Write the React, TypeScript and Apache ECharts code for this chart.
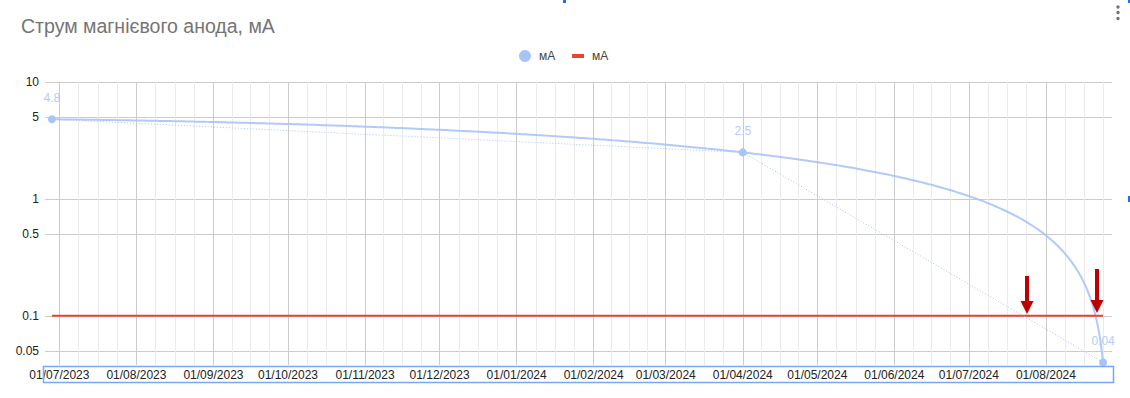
import { useEffect, useRef } from 'react';
import * as echarts from 'echarts';

// ---- data ----
const pointDates = ['2023-06-28', '2024-04-01', '2024-08-24'];
const currentMA = [4.8, 2.5, 0.04];
const thresholdMA = [0.1, 0.1, 0.1];
const seriesNames = ['мА', 'мА\u00a0'];
const titleText = 'Струм магнієвого анода, мА';
const xTickLabels = [
  '01/07/2023', '01/08/2023', '01/09/2023', '01/10/2023', '01/11/2023', '01/12/2023',
  '01/01/2024', '01/02/2024', '01/03/2024', '01/04/2024', '01/05/2024', '01/06/2024',
  '01/07/2024', '01/08/2024',
];
const yTickValues = [0.05, 0.1, 0.5, 1, 5, 10];
const xRange = ['2023-06-25T05:00', '2024-08-27T14:00'];
const yRange = [0.038, 10];

const DAY = 86400000;

function parseIso(s: string): number {
  const [d, t] = s.split('T');
  const [y, m, dd] = d.split('-').map(Number);
  let h = 0;
  let mi = 0;
  if (t) [h, mi] = t.split(':').map(Number);
  return new Date(y, m - 1, dd, h, mi).getTime();
}
function parseDmy(s: string): number {
  const [d, m, y] = s.split('/').map(Number);
  return new Date(y, m - 1, d).getTime();
}

// Polynomial (degree 2) least-squares trendline, as the source chart uses
function polyfit2(xs: number[], ys: number[]): number[] {
  const s = [0, 0, 0, 0, 0];
  const t = [0, 0, 0];
  xs.forEach((x, i) => {
    for (let k = 0; k < 5; k++) s[k] += Math.pow(x, k);
    for (let k = 0; k < 3; k++) t[k] += ys[i] * Math.pow(x, k);
  });
  const M = [
    [s[0], s[1], s[2]],
    [s[1], s[2], s[3]],
    [s[2], s[3], s[4]],
  ];
  const det = (m: number[][]) =>
    m[0][0] * (m[1][1] * m[2][2] - m[1][2] * m[2][1]) -
    m[0][1] * (m[1][0] * m[2][2] - m[1][2] * m[2][0]) +
    m[0][2] * (m[1][0] * m[2][1] - m[1][1] * m[2][0]);
  const D = det(M);
  return [0, 1, 2].map((c) => {
    const Mc = M.map((row, r) => row.map((v, j) => (j === c ? t[r] : v)));
    return det(Mc) / D;
  });
}

export default function App() {
  const ref = useRef<HTMLDivElement>(null);

  useEffect(() => {
    document.body.style.margin = '0';
    if (!ref.current) return;
    const chart = echarts.init(ref.current, null, { renderer: 'svg' });

    const times = pointDates.map(parseIso);
    const t0 = times[0];
    const xDays = times.map((t) => (t - t0) / DAY);
    const coef = polyfit2(xDays, currentMA);
    const lastDay = xDays[xDays.length - 1];
    const trend: number[][] = [];
    const N = 400;
    for (let i = 0; i <= N; i++) {
      const d = (lastDay * i) / N;
      const v = coef[0] + coef[1] * d + coef[2] * d * d;
      if (v > 0) trend.push([t0 + d * DAY, Math.log10(v)]);
    }

    const majorTicks = xTickLabels.map(parseDmy);
    const xMin = parseIso(xRange[0]);
    const xMax = parseIso(xRange[1]);
    const minorTicks: number[] = [];
    const ext = [...majorTicks];
    const lastMajor = new Date(majorTicks[majorTicks.length - 1]);
    ext.push(new Date(lastMajor.getFullYear(), lastMajor.getMonth() + 1, 1).getTime());
    const firstMajor = new Date(majorTicks[0]);
    ext.unshift(new Date(firstMajor.getFullYear(), firstMajor.getMonth() - 1, 1).getTime());
    for (let i = 0; i < ext.length - 1; i++) {
      const span = ext[i + 1] - ext[i];
      [0.25, 0.5, 0.75].forEach((f) => {
        const v = ext[i] + span * f;
        if (v > xMin && v < xMax) minorTicks.push(v);
      });
    }

    const yTickLogs = yTickValues.map((v) => Math.log10(v));
    const labelFont = 'Arial, "Liberation Sans", sans-serif';
    const blue = '#a8c4f6';
    const red = '#ea4335';
    const arrowColor = '#c00000';

    const arrow = (cx: number, top: number, tip: number) => [
      {
        type: 'rect',
        z: 50,
        shape: { x: cx - 2, y: top, width: 4, height: tip - top - 10 },
        style: { fill: arrowColor },
      },
      {
        type: 'polygon',
        z: 50,
        shape: { points: [[cx - 6.5, tip - 13], [cx + 6.5, tip - 13], [cx, tip]] },
        style: { fill: arrowColor },
      },
    ];

    chart.setOption({
      animation: false,
      backgroundColor: '#ffffff',
      title: {
        text: titleText,
        left: 16,
        top: 11,
        textStyle: { fontFamily: labelFont, fontSize: 19.5, fontWeight: 'normal', color: '#757575' },
      },
      legend: [
        {
          data: [{ name: seriesNames[0], icon: 'circle' }],
          left: 519,
          top: 49,
          padding: 0,
          itemWidth: 12,
          itemHeight: 12,
          formatter: (n: string) => n.trim(),
          textStyle: { fontFamily: labelFont, fontSize: 12, color: '#444444', padding: [0, 0, 0, 3], lineHeight: 14 },
        },
        {
          data: [{ name: seriesNames[1], icon: 'rect' }],
          left: 572,
          top: 49,
          padding: 0,
          itemWidth: 12,
          itemHeight: 4,
          formatter: (n: string) => n.trim(),
          textStyle: { fontFamily: labelFont, fontSize: 12, color: '#444444', padding: [0, 0, 0, 3], lineHeight: 14 },
        },
      ],
      grid: { left: 45, right: 18, top: 82, bottom: 33, containLabel: false },
      xAxis: [
        {
          type: 'value',
          min: xMin,
          max: xMax,
          axisLine: { show: false },
          axisTick: { show: false, customValues: majorTicks },
          axisLabel: {
            customValues: majorTicks,
            margin: 4,
            fontFamily: labelFont,
            fontSize: 12,
            color: '#222222',
            formatter: (v: number) => {
              let best = 0;
              majorTicks.forEach((m, i) => {
                if (Math.abs(m - v) < Math.abs(majorTicks[best] - v)) best = i;
              });
              return xTickLabels[best];
            },
          },
          splitLine: { show: true, lineStyle: { color: '#cccccc', width: 1 } },
          z: 1,
        },
        {
          type: 'value',
          min: xMin,
          max: xMax,
          axisLine: { show: false },
          axisTick: { show: false, customValues: minorTicks },
          axisLabel: { show: false, customValues: minorTicks },
          splitLine: { show: true, lineStyle: { color: '#ebebeb', width: 1 } },
          z: 0,
        },
      ],
      yAxis: {
        type: 'value',
        min: Math.log10(yRange[0]),
        max: Math.log10(yRange[1]),
        axisLine: { show: false },
        axisTick: { show: false, customValues: yTickLogs },
        axisLabel: {
          customValues: yTickLogs,
          margin: 6,
          fontFamily: labelFont,
          fontSize: 12,
          color: '#222222',
          formatter: (v: number) => {
            let best = 0;
            yTickLogs.forEach((m, i) => {
              if (Math.abs(m - v) < Math.abs(yTickLogs[best] - v)) best = i;
            });
            return String(yTickValues[best]);
          },
        },
        splitLine: { show: true, lineStyle: { color: '#cccccc', width: 1 } },
      },
      series: [
        {
          name: 'trend',
          type: 'line',
          data: trend,
          symbol: 'none',
          lineStyle: { color: blue, width: 2, opacity: 0.9 },
          itemStyle: { color: blue },
          silent: true,
          z: 2,
        },
        {
          name: seriesNames[1],
          type: 'line',
          data: times.map((t, i) => [t, Math.log10(thresholdMA[i])]),
          symbol: 'none',
          lineStyle: { color: red, width: 2 },
          itemStyle: { color: red },
          z: 3,
        },
        {
          name: seriesNames[0],
          type: 'line',
          data: times.map((t, i) => [t, Math.log10(currentMA[i])]),
          symbol: 'circle',
          symbolSize: 8,
          showAllSymbol: true,
          itemStyle: { color: blue },
          lineStyle: { color: blue, width: 1, type: [1, 2] },
          label: {
            show: true,
            position: 'top',
            distance: 11,
            color: '#b3cdf8',
            fontFamily: labelFont,
            fontSize: 12,
            formatter: (p: any) => String(currentMA[p.dataIndex]),
          },
          z: 4,
        },
      ],
      graphic: [
        ...arrow(1027, 276, 314),
        ...arrow(1097, 269, 313),
        {
          type: 'rect',
          z: 50,
          shape: { x: 43.5, y: 366.5, width: 1070, height: 16 },
          style: { fill: 'none', stroke: '#7aa7f4', lineWidth: 1.5 },
        },
        { type: 'rect', shape: { x: 563, y: 0, width: 3, height: 3 }, style: { fill: '#1a73e8' } },
        { type: 'rect', shape: { x: 1128, y: 0, width: 2, height: 3 }, style: { fill: '#1a73e8' } },
        { type: 'rect', shape: { x: 1128, y: 196, width: 2, height: 6 }, style: { fill: '#1a73e8' } },
        { type: 'circle', shape: { cx: 1118, cy: 7, r: 1.7 }, style: { fill: '#757575' } },
        { type: 'circle', shape: { cx: 1118, cy: 12.5, r: 1.7 }, style: { fill: '#757575' } },
        { type: 'circle', shape: { cx: 1118, cy: 18.5, r: 1.7 }, style: { fill: '#757575' } },
      ],
    });

    return () => chart.dispose();
  }, []);

  return <div ref={ref} style={{ width: 1130, height: 398 }} />;
}
